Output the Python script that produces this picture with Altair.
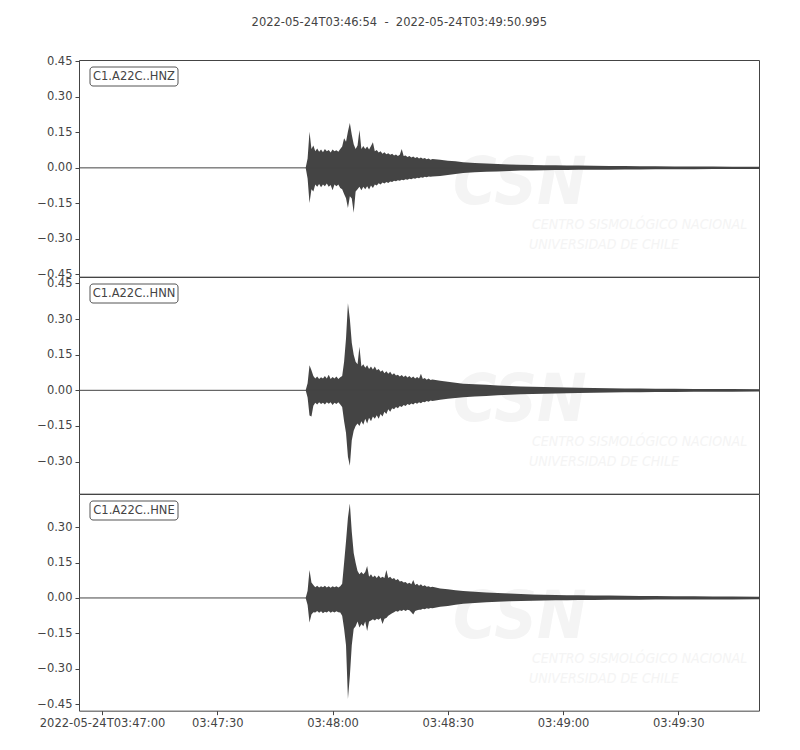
import altair as alt
import pandas as pd

# seconds after 2022-05-24T03:46:54
TIMES = [0,
         59.0, 59.5, 60.0, 60.5, 61.0, 61.5, 62.0, 62.5, 63.0, 63.5,
         64.0, 64.5, 65.0, 65.5, 66.0, 66.5, 67.0, 67.5, 68.0, 68.5,
         69.0, 69.5, 70.0, 70.5, 71.0, 71.5, 72.0, 72.5, 73.0, 73.5,
         74.0, 74.5, 75.0, 75.5, 76.0, 76.5, 77.0, 77.5, 78.0, 78.5,
         79.0, 79.5, 80.0, 80.5, 81.0, 81.5, 82.0, 82.5, 83.0, 83.5,
         84.0, 84.5, 85.0, 85.5, 86.0, 86.5, 87.0, 87.5, 88.0, 88.5,
         89.0, 89.5, 90.0, 90.5, 91.0, 91.5, 92.0,
         94, 96, 98, 100, 103, 106, 109, 112, 115, 118, 121, 124,
         127, 130, 134, 138, 142, 146, 150, 155, 160, 165, 170, 177]

HNZ_HI = [0,
          0, 0.04, 0.153, 0.08, 0.095, 0.07, 0.082, 0.068, 0.078, 0.066,
          0.08, 0.07, 0.075, 0.065, 0.078, 0.07, 0.074, 0.068, 0.08, 0.09,
          0.125, 0.11, 0.154, 0.19, 0.14, 0.10, 0.08, 0.095, 0.16, 0.08,
          0.092, 0.08, 0.09, 0.078, 0.092, 0.108, 0.07, 0.075, 0.065, 0.07,
          0.06, 0.066, 0.058, 0.062, 0.055, 0.06, 0.052, 0.057, 0.05, 0.055,
          0.08, 0.05, 0.052, 0.046, 0.05, 0.044, 0.048, 0.042, 0.046, 0.04,
          0.044, 0.038, 0.042, 0.036, 0.04, 0.034, 0.037,
          0.034, 0.03, 0.028, 0.024, 0.021, 0.018, 0.016, 0.014, 0.013, 0.012, 0.011, 0.011,
          0.010, 0.010, 0.009, 0.008, 0.008, 0.007, 0.007, 0.006, 0.006, 0.006, 0.005, 0.005]
HNZ_LO = [0,
          0, -0.045, -0.149, -0.09, -0.1, -0.07, -0.08, -0.068, -0.082, -0.07,
          -0.078, -0.066, -0.08, -0.072, -0.095, -0.07, -0.078, -0.07, -0.085, -0.09,
          -0.11, -0.128, -0.17, -0.12, -0.13, -0.19, -0.10, -0.09, -0.08, -0.095,
          -0.08, -0.09, -0.078, -0.092, -0.075, -0.085, -0.07, -0.075, -0.065, -0.07,
          -0.062, -0.066, -0.06, -0.064, -0.058, -0.06, -0.054, -0.057, -0.052, -0.055,
          -0.05, -0.052, -0.048, -0.05, -0.046, -0.048, -0.044, -0.046, -0.042, -0.044,
          -0.04, -0.042, -0.038, -0.04, -0.036, -0.038, -0.036,
          -0.034, -0.03, -0.026, -0.022, -0.019, -0.016, -0.015, -0.013, -0.011, -0.011, -0.010, -0.009,
          -0.009, -0.008, -0.008, -0.008, -0.007, -0.007, -0.006, -0.006, -0.006, -0.005, -0.005, -0.005]

HNN_HI = [0,
          0, 0.03, 0.106, 0.085, 0.06, 0.05, 0.058, 0.048, 0.055, 0.05,
          0.06, 0.05, 0.066, 0.048, 0.056, 0.05, 0.058, 0.048, 0.055, 0.06,
          0.12, 0.218, 0.366, 0.30, 0.20, 0.15, 0.12, 0.11, 0.183, 0.1,
          0.11, 0.095, 0.106, 0.09, 0.1, 0.088, 0.1, 0.085, 0.09, 0.078,
          0.085, 0.072, 0.08, 0.07, 0.078, 0.066, 0.072, 0.062, 0.066, 0.058,
          0.064, 0.056, 0.062, 0.054, 0.06, 0.052, 0.058, 0.05, 0.056, 0.05,
          0.07, 0.048, 0.052, 0.045, 0.05, 0.043, 0.046,
          0.04, 0.036, 0.032, 0.028, 0.026, 0.023, 0.02, 0.018, 0.016, 0.015, 0.014, 0.013,
          0.012, 0.011, 0.01, 0.009, 0.008, 0.008, 0.007, 0.007, 0.006, 0.006, 0.006, 0.005]
HNN_LO = [0,
          0, -0.03, -0.106, -0.11, -0.065, -0.052, -0.06, -0.05, -0.058, -0.052,
          -0.06, -0.05, -0.056, -0.05, -0.062, -0.052, -0.058, -0.05, -0.06, -0.07,
          -0.13, -0.18, -0.28, -0.317, -0.21, -0.17, -0.15, -0.14, -0.15, -0.13,
          -0.145, -0.12, -0.14, -0.115, -0.13, -0.11, -0.12, -0.105, -0.12, -0.1,
          -0.11, -0.09, -0.1, -0.08, -0.09, -0.075, -0.08, -0.07, -0.075, -0.066,
          -0.07, -0.062, -0.066, -0.058, -0.062, -0.055, -0.06, -0.052, -0.056, -0.05,
          -0.054, -0.048, -0.05, -0.045, -0.048, -0.043, -0.045,
          -0.04, -0.035, -0.032, -0.029, -0.026, -0.024, -0.021, -0.019, -0.017, -0.015, -0.014, -0.013,
          -0.012, -0.011, -0.01, -0.009, -0.008, -0.008, -0.007, -0.007, -0.006, -0.006, -0.006, -0.005]

HNE_HI = [0,
          0, 0.03, 0.118, 0.065, 0.055, 0.045, 0.052, 0.044, 0.05, 0.045,
          0.052, 0.044, 0.05, 0.043, 0.05, 0.045, 0.05, 0.044, 0.05, 0.06,
          0.149, 0.24, 0.34, 0.40, 0.28, 0.19, 0.149, 0.114, 0.1, 0.11,
          0.1, 0.11, 0.135, 0.09, 0.1, 0.088, 0.095, 0.085, 0.095, 0.085,
          0.09, 0.085, 0.118, 0.085, 0.09, 0.08, 0.085, 0.075, 0.08, 0.07,
          0.072, 0.065, 0.068, 0.06, 0.064, 0.058, 0.076, 0.055, 0.06, 0.052,
          0.058, 0.05, 0.054, 0.047, 0.05, 0.045, 0.047,
          0.04, 0.037, 0.033, 0.029, 0.026, 0.023, 0.021, 0.019, 0.017, 0.015, 0.014, 0.013,
          0.012, 0.011, 0.01, 0.01, 0.009, 0.008, 0.008, 0.007, 0.007, 0.006, 0.006, 0.005]
HNE_LO = [0,
          0, -0.03, -0.104, -0.07, -0.06, -0.062, -0.055, -0.063, -0.056, -0.065,
          -0.058, -0.062, -0.055, -0.063, -0.057, -0.062, -0.056, -0.06, -0.062, -0.075,
          -0.13, -0.2, -0.428, -0.33, -0.2, -0.13, -0.12, -0.1, -0.125, -0.11,
          -0.12, -0.1, -0.14, -0.1, -0.095, -0.09, -0.095, -0.088, -0.092, -0.085,
          -0.11, -0.088, -0.085, -0.075, -0.07, -0.065, -0.06, -0.055, -0.058, -0.052,
          -0.055, -0.05, -0.055, -0.05, -0.052, -0.06, -0.07, -0.055, -0.052, -0.05,
          -0.05, -0.046, -0.048, -0.044, -0.046, -0.042, -0.044,
          -0.037, -0.034, -0.029, -0.025, -0.021, -0.018, -0.016, -0.014, -0.013, -0.012, -0.011, -0.010,
          -0.010, -0.009, -0.009, -0.008, -0.008, -0.008, -0.007, -0.007, -0.006, -0.006, -0.006, -0.005]

CHANNELS = ["C1.A22C..HNZ", "C1.A22C..HNN", "C1.A22C..HNE"]
Y_DOMAINS = [[-0.46, 0.456], [-0.435, 0.477], [-0.477, 0.44]]
Y_TICKS = [[-0.45, -0.30, -0.15, 0.0, 0.15, 0.30, 0.45],
           [-0.30, -0.15, 0.0, 0.15, 0.30, 0.45],
           [-0.45, -0.30, -0.15, 0.0, 0.15, 0.30]]
X_TICKS = [6, 36, 66, 96, 126, 156]
X_LABELS = ["2022-05-24T03:47:00", "03:47:30", "03:48:00", "03:48:30", "03:49:00", "03:49:30"]
TITLE = "2022-05-24T03:46:54\u00a0\u00a0-\u00a0\u00a02022-05-24T03:49:50.995"
WATERMARK = ["CSN", "CENTRO SISMOLÓGICO NACIONAL", "UNIVERSIDAD DE CHILE"]

TRACES = [(HNZ_HI, HNZ_LO), (HNN_HI, HNN_LO), (HNE_HI, HNE_LO)]
for hi, lo in TRACES:
    assert len(hi) == len(TIMES) and len(lo) == len(TIMES), (len(TIMES), len(hi), len(lo))

W = 680
H = 650 / 3
INK = "#444444"
FONT = "DejaVu Sans"
WM = "#f4f4f4"
WM_FONT = "DejaVu Sans Condensed, Liberation Sans, sans-serif"

label_expr = "[" + ",".join("'%s'" % s for s in X_LABELS) + "][indexof([" + \
    ",".join(str(v) for v in X_TICKS) + "], datum.value)]"


def panel(i):
    hi, lo = TRACES[i]
    df = pd.DataFrame({"t": TIMES, "hi": hi, "lo": lo})
    bottom = i == 2
    if bottom:
        xaxis = alt.Axis(values=X_TICKS, labelExpr=label_expr, title=None, grid=False,
                         domain=False, tickSize=4, tickColor=INK, labelColor=INK,
                         labelFontSize=11.5, labelFont=FONT, labelPadding=3)
    else:
        xaxis = None
    x = alt.X("t:Q", scale=alt.Scale(domain=[0, 176.995], nice=False, zero=False), axis=xaxis)
    yscale = alt.Scale(domain=Y_DOMAINS[i], nice=False, zero=False)
    yaxis = alt.Axis(values=Y_TICKS[i], format=".2f", title=None, grid=False, domain=False,
                     tickSize=4, tickColor=INK, labelColor=INK, labelFontSize=11.5,
                     labelFont=FONT, labelPadding=3, minExtent=60, maxExtent=60)

    wm1 = alt.Chart(pd.DataFrame({"s": [WATERMARK[0]]})).mark_text(
        font=WM_FONT, fontSize=66, fontWeight="bold", fontStyle="italic", color=WM,
        align="left", baseline="alphabetic", clip=True).encode(
        text="s:N", x=alt.value(374), y=alt.value(144))
    wm2 = alt.Chart(pd.DataFrame({"s": [WATERMARK[1]]})).mark_text(
        font=WM_FONT, fontSize=14, fontStyle="italic", color=WM,
        align="left", baseline="alphabetic", clip=True).encode(
        text="s:N", x=alt.value(453), y=alt.value(169))
    wm3 = alt.Chart(pd.DataFrame({"s": [WATERMARK[2]]})).mark_text(
        font=WM_FONT, fontSize=14, fontStyle="italic", color=WM,
        align="left", baseline="alphabetic", clip=True).encode(
        text="s:N", x=alt.value(450), y=alt.value(189))

    zero = alt.Chart(pd.DataFrame({"z": [0.0]})).mark_rule(color=INK, strokeWidth=1).encode(
        y=alt.Y("z:Q", scale=yscale, axis=yaxis))
    area = alt.Chart(df).mark_area(color=INK, interpolate="linear", opacity=1).encode(
        x=x, y=alt.Y("hi:Q", scale=yscale, axis=yaxis), y2="lo:Q")
    box = alt.Chart(pd.DataFrame({"s": [CHANNELS[i]]})).mark_rect(
        fill="white", stroke="#555555", strokeWidth=1, cornerRadius=3).encode(
        x=alt.value(11), x2=alt.value(99), y=alt.value(7), y2=alt.value(26))
    txt = alt.Chart(pd.DataFrame({"s": [CHANNELS[i]]})).mark_text(
        font=FONT, fontSize=11.5, color=INK, align="center", baseline="middle").encode(
        text="s:N", x=alt.value(55), y=alt.value(16.5))
    return alt.layer(wm1, wm2, wm3, area, zero, box, txt).properties(width=W, height=H)


chart = alt.vconcat(panel(0), panel(1), panel(2), spacing=0, bounds="flush").properties(
    title=alt.TitleParams(text=TITLE, fontSize=11.5, fontWeight="normal", color=INK,
                          font=FONT, anchor="middle", offset=26, dx=10),
    padding={"left": 10, "top": 9, "right": 5, "bottom": 5},
).configure_view(stroke=INK, strokeWidth=1)

chart.save("out.html", embed_options={"renderer": "svg", "actions": False})
